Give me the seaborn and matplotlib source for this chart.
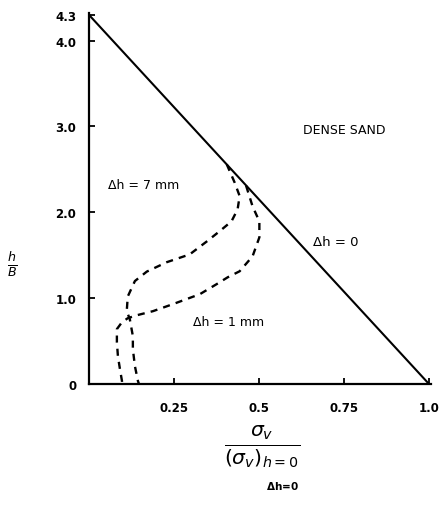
import matplotlib
matplotlib.use("Agg")
import matplotlib.pyplot as plt
import numpy as np
import pandas as pd
import seaborn as sns

# Normalised vertical stress vs. normalised height
# Delta h = 0 : linear distribution
line0_x = [0.0, 1.0]
line0_y = [4.3, 0.0]

# Delta h = 7 mm
dh7_x = [0.405, 0.428, 0.443, 0.437, 0.419, 0.384, 0.346, 0.296, 0.229, 0.170,
         0.135, 0.114, 0.111, 0.120, 0.129, 0.129, 0.135, 0.144, 0.147]
dh7_y = [2.56, 2.35, 2.19, 2.035, 1.895, 1.78, 1.66, 1.51, 1.42, 1.31,
         1.20, 1.02, 0.85, 0.756, 0.558, 0.407, 0.209, 0.035, 0.0]

# Delta h = 1 mm
dh1_x = [0.462, 0.481, 0.501, 0.501, 0.481, 0.443, 0.408, 0.375, 0.326, 0.246,
         0.188, 0.141, 0.114, 0.097, 0.082, 0.082, 0.085, 0.091, 0.097, 0.097]
dh1_y = [2.31, 2.07, 1.895, 1.709, 1.488, 1.314, 1.244, 1.163, 1.047, 0.930,
         0.849, 0.802, 0.767, 0.721, 0.640, 0.488, 0.326, 0.174, 0.035, 0.0]

x_ticks = [0.25, 0.5, 0.75, 1.0]
x_ticklabels = ["0.25", "0.5", "0.75", "1.0"]
y_ticks = [0.0, 1.0, 2.0, 3.0, 4.0, 4.3]
y_ticklabels = ["0", "1.0", "2.0", "3.0", "4.0", "4.3"]

sns.set_style("ticks")
plt.rcParams["font.family"] = ["DejaVu Sans"]
plt.rcParams["text.color"] = "black"
plt.rcParams["xtick.color"] = "black"
plt.rcParams["ytick.color"] = "black"

fig = plt.figure(figsize=(4.45, 5.06), dpi=100)
ax = fig.add_axes([0.2, 0.239, 0.768, 0.733])

df0 = pd.DataFrame({"x": line0_x, "y": line0_y})
df7 = pd.DataFrame({"x": dh7_x, "y": dh7_y})
df1 = pd.DataFrame({"x": dh1_x, "y": dh1_y})

sns.lineplot(data=df0, x="x", y="y", ax=ax, sort=False, estimator=None,
             color="black", linewidth=1.5)
sns.lineplot(data=df7, x="x", y="y", ax=ax, sort=False, estimator=None,
             color="black", linewidth=1.7)
sns.lineplot(data=df1, x="x", y="y", ax=ax, sort=False, estimator=None,
             color="black", linewidth=1.7)
for ln in ax.lines[1:]:
    ln.set_dashes((3.0, 2.6))

ax.set_xlim(0, 1.005)
ax.set_ylim(0, 4.32)
ax.set_xticks(x_ticks)
ax.set_xticklabels(x_ticklabels, fontsize=8.5, fontweight="bold")
ax.set_yticks(y_ticks)
ax.set_yticklabels(y_ticklabels, fontsize=8.5, fontweight="bold")
ax.tick_params(axis="both", direction="in", length=4, width=1.3, color="black",
               labelcolor="black")
ax.tick_params(axis="x", pad=12)
ax.tick_params(axis="y", pad=9)
for side in ["top", "right"]:
    ax.spines[side].set_visible(False)
for side in ["left", "bottom"]:
    ax.spines[side].set_linewidth(1.6)
    ax.spines[side].set_color("black")
ax.set_xlabel("")
ax.set_ylabel("")

# annotations
ax.text(0.75, 2.97, "DENSE SAND", fontsize=9, ha="center", va="center")
ax.text(0.055, 2.33, "Δh = 7 mm", fontsize=9, ha="left", va="center")
ax.text(0.66, 1.66, "Δh = 0", fontsize=9.5, ha="left", va="center")
ax.text(0.305, 0.73, "Δh = 1 mm", fontsize=9, ha="left", va="center")

# axis titles as fractions
fig.text(0.027, 0.478, r"$\frac{h}{B}$", fontsize=13, ha="center", va="center")
fig.text(0.59, 0.118, r"$\frac{\sigma_v}{(\sigma_v)_{h=0}}$", fontsize=21,
         ha="center", va="center")
fig.text(0.635, 0.04, r"$\mathbf{\Delta h\!=\!0}$", fontsize=7.5,
         ha="center", va="center")

fig.savefig("out.png", dpi=100)
